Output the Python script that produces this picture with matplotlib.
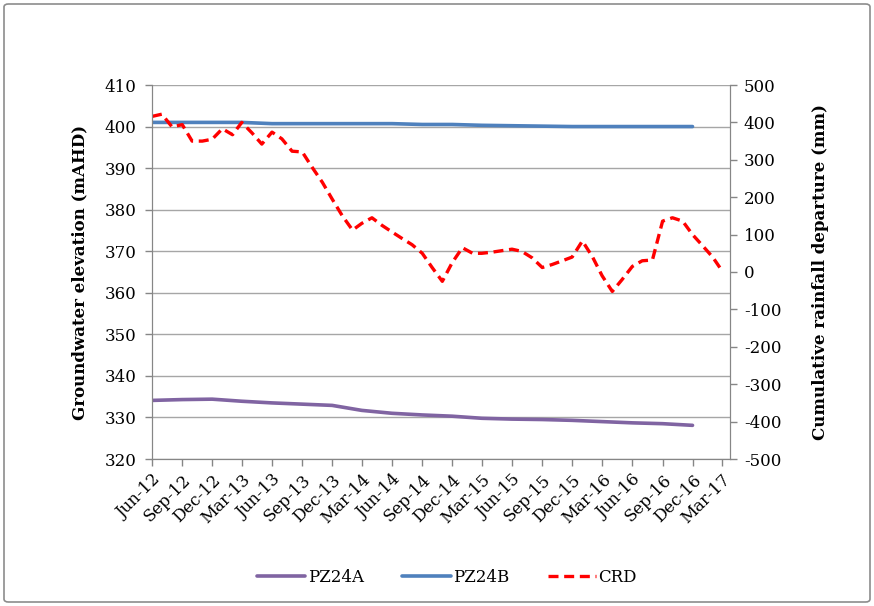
import matplotlib
matplotlib.use("Agg")
import matplotlib.pyplot as plt
from matplotlib.patches import FancyBboxPatch
import pandas as pd

# ---- data ----
quarter_labels = ["Jun-12", "Sep-12", "Dec-12", "Mar-13", "Jun-13", "Sep-13", "Dec-13",
                  "Mar-14", "Jun-14", "Sep-14", "Dec-14", "Mar-15", "Jun-15", "Sep-15",
                  "Dec-15", "Mar-16", "Jun-16", "Sep-16", "Dec-16", "Mar-17"]
pz24a = [334.1, 334.3, 334.4, 333.9, 333.5, 333.2, 332.9, 331.7, 331.0, 330.6,
         330.3, 329.8, 329.6, 329.5, 329.3, 329.0, 328.7, 328.5, 328.1]
pz24b = [401.0, 401.0, 401.0, 401.0, 400.7, 400.7, 400.7, 400.7, 400.7, 400.5,
         400.5, 400.3, 400.2, 400.1, 400.0, 400.0, 400.0, 400.0, 400.0]
crd = [416, 422, 388, 394, 350, 350, 355, 383, 367, 400,
       372, 342, 374, 356, 323, 321, 280, 240, 195, 150,
       112, 130, 145, 125, 107, 90, 73, 50, 12, -25,
       25, 65, 50, 50, 53, 57, 61, 55, 38, 12,
       20, 30, 40, 83, 40, -10, -52, -20, 15, 30,
       32, 136, 145, 136, 100, 70, 39, 3]

quarter_dates = pd.date_range("2012-06-01", periods=len(quarter_labels), freq="3MS")
well_dates = quarter_dates[:len(pz24a)]
crd_dates = pd.date_range("2012-06-01", periods=len(crd), freq="MS")

# ---- style ----
serif = ["DejaVu Serif", "Liberation Serif"]
plt.rcParams["font.family"] = serif
plt.rcParams["axes.unicode_minus"] = False
axis_grey = "#868686"
fs = 12

fig = plt.figure(figsize=(8.74, 6.06), dpi=100)
ax = fig.add_axes([152 / 874, 1 - 459 / 606, (730 - 152) / 874, (459 - 85) / 606])
ax2 = ax.twinx()

ax.plot(well_dates, pz24a, color="#8064A2", lw=2.6, label="PZ24A", solid_capstyle="round")
ax.plot(well_dates, pz24b, color="#4F81BD", lw=2.6, label="PZ24B", solid_capstyle="round")
ax2.plot(crd_dates, crd, color="#FF0000", lw=2.4, ls=(0, (3, 1.7)), label="CRD")

ax.set_ylim(320, 410)
ax.set_yticks(range(320, 411, 10))
ax2.set_ylim(-500, 500)
ax2.set_yticks(range(-500, 501, 100))

ax.set_xlim(pd.Timestamp("2012-06-01"), pd.Timestamp("2017-03-25"))
ax.set_xticks(quarter_dates)
ax.set_xticklabels(quarter_labels, rotation=45, ha="right", rotation_mode="anchor", fontsize=fs)

ax.grid(axis="y", color="#A6A6A6", lw=1)
ax.set_axisbelow(True)

for a in (ax, ax2):
    for s in a.spines.values():
        s.set_color(axis_grey)
    a.spines["top"].set_visible(False)
    a.tick_params(colors=axis_grey, labelcolor="black", labelsize=fs, length=5, width=1)
ax.tick_params(axis="x", pad=4)
ax.tick_params(axis="y", pad=6)
ax2.tick_params(axis="y", pad=5)

ax.set_ylabel("Groundwater elevation (mAHD)", fontsize=fs, fontweight="bold", labelpad=12)
ax2.set_ylabel("Cumulative rainfall departure (mm)", fontsize=fs, fontweight="bold", labelpad=22)

h1, l1 = ax.get_legend_handles_labels()
h2, l2 = ax2.get_legend_handles_labels()
fig.legend(h1 + h2, l1 + l2, loc="center", bbox_to_anchor=(447 / 874, 1 - 577 / 606),
           ncol=3, frameon=False, fontsize=fs, handlelength=2.9, columnspacing=2.3,
           handletextpad=0.15)

border = FancyBboxPatch((4 / 874, 4 / 606), 866 / 874, 598 / 606,
                        boxstyle="round,pad=0,rounding_size=0.005",
                        transform=fig.transFigure, facecolor="none",
                        edgecolor="#8c8c8c", lw=1.2)
fig.patches.append(border)

fig.savefig("out.png", dpi=100)
